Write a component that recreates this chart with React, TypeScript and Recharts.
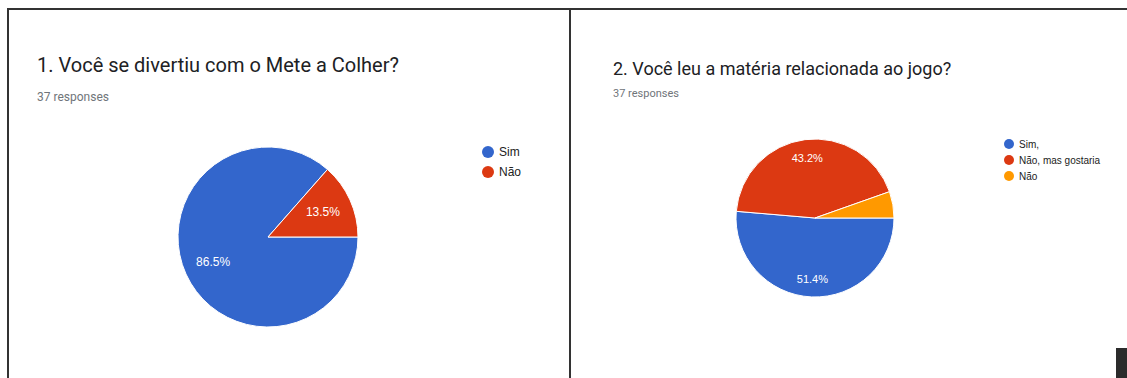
import React from "react";
import { PieChart, Pie, Cell, Legend } from "recharts";

// 37 responses per question
const q1Labels = ["Sim", "Não"];
const q1Counts = [32, 5];

const q2Labels = ["Sim,", "Não, mas gostaria", "Não"];
const q2Counts = [19, 16, 2];

const colors = ["#3366cc", "#dc3912", "#ff9900"];

const RADIAN = Math.PI / 180;

// Google-style percentage label inside the slice, hidden for tiny slices
const makeLabel = (ratio: number, size: number) => (props: any) => {
  const { cx, cy, midAngle, outerRadius, percent } = props;
  if (percent < 0.1) return null;
  const r = outerRadius * ratio;
  const x = cx + r * Math.cos(-midAngle * RADIAN);
  const y = cy + r * Math.sin(-midAngle * RADIAN);
  return (
    <text
      x={x}
      y={y}
      fill="#ffffff"
      fontSize={size}
      fontFamily="Liberation Sans, Arial, sans-serif"
      textAnchor="middle"
      dominantBaseline="central"
    >
      {(percent * 100).toFixed(1) + "%"}
    </text>
  );
};

// legend keeps the data order (recharts flips it for clockwise pies)
const makeLegend = (labels: string[], fontSize: number, gap: number, dot: number) => () => (
  <div style={{ fontFamily: "Liberation Sans, Arial, sans-serif", fontSize, color: "#222" }}>
    {labels.map((name, i) => (
      <div key={name} style={{ display: "flex", alignItems: "center", height: gap }}>
        <span
          style={{
            display: "inline-block",
            width: dot,
            height: dot,
            borderRadius: "50%",
            background: colors[i],
            marginRight: 5,
          }}
        />
        {name}
      </div>
    ))}
  </div>
);

const q1Data = q1Labels.map((name, i) => ({ name, value: q1Counts[i] }));
const q2Data = q2Labels.map((name, i) => ({ name, value: q2Counts[i] }));

const titleStyle: React.CSSProperties = {
  position: "absolute",
  fontFamily: "Roboto, sans-serif",
  color: "#202124",
  whiteSpace: "nowrap",
};

const subStyle: React.CSSProperties = {
  position: "absolute",
  fontFamily: "Roboto, sans-serif",
  color: "#70757a",
  whiteSpace: "nowrap",
};

const App: React.FC = () => {
  return (
    <div
      style={{
        position: "absolute",
        left: 0,
        top: 0,
        width: 1127,
        height: 378,
        background: "#ffffff",
        overflow: "hidden",
      }}
    >
      {/* panel frame */}
      <div style={{ position: "absolute", left: 7, top: 8, width: 1120, height: 2, background: "#333" }} />
      <div style={{ position: "absolute", left: 7, top: 8, width: 2, height: 370, background: "#333" }} />
      <div style={{ position: "absolute", left: 569, top: 8, width: 2, height: 370, background: "#333" }} />
      <div style={{ position: "absolute", left: 1116, top: 348, width: 11, height: 30, background: "#2b2b2b" }} />

      <div style={{ ...titleStyle, left: 37, top: 53, fontSize: 20 }}>
        1. Você se divertiu com o Mete a Colher?
      </div>
      <div style={{ ...subStyle, left: 37, top: 90, fontSize: 12 }}>37 responses</div>

      <div style={{ ...titleStyle, left: 613, top: 58, fontSize: 18 }}>
        2. Você leu a matéria relacionada ao jogo?
      </div>
      <div style={{ ...subStyle, left: 613, top: 87, fontSize: 11 }}>37 responses</div>

      <div style={{ position: "absolute", left: 0, top: 0 }}>
        <PieChart width={560} height={378} margin={{ top: 0, right: 0, bottom: 0, left: 0 }}>
          <Pie
            data={q1Data}
            dataKey="value"
            nameKey="name"
            cx={268}
            cy={237}
            outerRadius={90}
            startAngle={0}
            endAngle={-360}
            stroke="#ffffff"
            strokeWidth={1}
            label={makeLabel(0.67, 12)}
            labelLine={false}
            isAnimationActive={false}
          >
            {q1Data.map((_, i) => (
              <Cell key={i} fill={colors[i]} />
            ))}
          </Pie>
          <Legend
            layout="vertical"
            content={makeLegend(q1Labels, 12, 20, 12)}
            wrapperStyle={{ position: "absolute", left: 482, top: 142, width: 80 }}
          />
        </PieChart>
      </div>

      <div style={{ position: "absolute", left: 571, top: 0 }}>
        <PieChart width={556} height={378} margin={{ top: 0, right: 0, bottom: 0, left: 0 }}>
          <Pie
            data={q2Data}
            dataKey="value"
            nameKey="name"
            cx={244}
            cy={218}
            outerRadius={79}
            startAngle={0}
            endAngle={-360}
            stroke="#ffffff"
            strokeWidth={1}
            label={makeLabel(0.77, 11)}
            labelLine={false}
            isAnimationActive={false}
          >
            {q2Data.map((_, i) => (
              <Cell key={i} fill={colors[i]} />
            ))}
          </Pie>
          <Legend
            layout="vertical"
            content={makeLegend(q2Labels, 10, 16, 10)}
            wrapperStyle={{ position: "absolute", left: 433, top: 136, width: 120 }}
          />
        </PieChart>
      </div>
    </div>
  );
};

export default App;
